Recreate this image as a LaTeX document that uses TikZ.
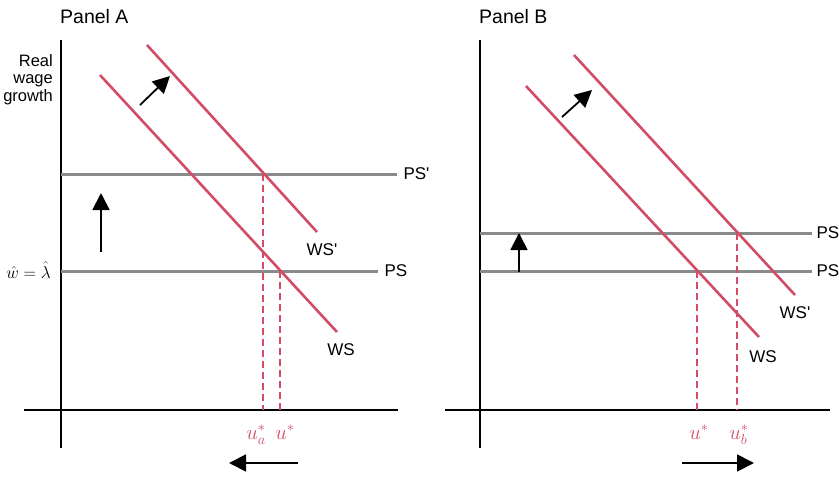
\documentclass[tikz,border=0pt]{standalone}
\usepackage{fontspec}
\setmainfont{Liberation Sans}
\usepackage{amsmath}
\usetikzlibrary{arrows.meta, positioning}
\definecolor{wsred}{RGB}{210,76,102}
\definecolor{psgray}{RGB}{138,138,138}

\begin{document}
\begin{tikzpicture}[
        x=1pt, y=-1pt,
        axis/.style={draw=black, line width=1.8pt},
        ps/.style={draw=psgray, line width=3pt},
        ws/.style={draw=wsred, line width=2.6pt},
        drop/.style={draw=wsred, line width=1.2pt, dash pattern=on 7pt off 4pt},
        shiftarrow/.style={draw=black, line width=1.8pt, -{Triangle[length=17pt, width=17pt]}},
        lbl/.style={font=\fontsize{17}{17}\selectfont, inner sep=0pt},
        paneltitle/.style={font=\fontsize{19.5}{19.5}\selectfont, inner sep=0pt, anchor=west},
        ustar/.style={text=wsred, font=\fontsize{22}{22}\selectfont, inner sep=0pt, anchor=base}
    ]
        \useasboundingbox (0,0) rectangle (839,477);

        % Panel A
        \node[paneltitle] (panelA) at (60,17) {Panel A};
        \node[align=right, anchor=north east, inner sep=0pt, font=\fontsize{16.5}{17.5}\selectfont] (ylab) at (53,54) {Real\\wage\\growth};
        \node[anchor=base east, inner sep=0pt, font=\fontsize{19}{19}\selectfont] (wlam) at (51,278) {$\hat{w}=\hat{\lambda}$};

        \draw[axis] (61,40) -- (61,448);
        \draw[axis] (24,410) -- (398,410);
        \draw[ps] (61,174) -- (397,174) node[lbl, right=5pt] (psA2) {PS\textquotesingle};
        \draw[ps] (61,271) -- (378,271) node[lbl, right=5pt] (psA1) {PS};
        \draw[drop] (263,174) -- (263,410);
        \draw[drop] (280,271) -- (280,410);
        \draw[ws] (147,45) -- (317,232);
        \draw[ws] (100,75) -- (337,332);
        \node[lbl] (wsA2) at (322,250) {WS\textquotesingle};
        \node[lbl] (wsA1) at (341,350) {WS};
        \node[ustar] (uaA) at (256,439) {$u_a^*$};
        \node[ustar] (uA) at (285,439) {$u^*$};

        \coordinate (wsA tail) at (140,105);
        \coordinate (wsA head) at (170,76);
        \coordinate (psA tail) at (101,252);
        \coordinate (psA head) at (101,193);
        \coordinate (uA tail) at (298,463);
        \coordinate (uA head) at (229,463);
        \draw[shiftarrow] (wsA tail) -- (wsA head);
        \draw[shiftarrow] (psA tail) -- (psA head);
        \draw[shiftarrow] (uA tail) -- (uA head);

        % Panel B
        \node[paneltitle] (panelB) at (479,17) {Panel B};

        \draw[axis] (480,40) -- (480,448);
        \draw[axis] (445,410) -- (830,410);
        \draw[ps] (480,233) -- (812,233) node[lbl, right=3pt] (psB2) {PS};
        \draw[ps] (480,271) -- (812,271) node[lbl, right=3pt] (psB1) {PS};
        \draw[drop] (737,233) -- (737,410);
        \draw[drop] (697,271) -- (697,410);
        \draw[ws] (574,55) -- (795,295);
        \draw[ws] (526,86) -- (759,337);
        \node[lbl] (wsB2) at (795,313) {WS\textquotesingle};
        \node[lbl] (wsB1) at (763,357) {WS};
        \node[ustar] (uB) at (699,439) {$u^*$};
        \node[ustar] (ubB) at (739,439) {$u_b^*$};

        \coordinate (wsB tail) at (562,117);
        \coordinate (wsB head) at (592,90);
        \coordinate (psB tail) at (519,272);
        \coordinate (psB head) at (519,233);
        \coordinate (uB tail) at (682,463);
        \coordinate (uB head) at (754,463);
        \draw[shiftarrow] (wsB tail) -- (wsB head);
        \draw[shiftarrow] (psB tail) -- (psB head);
        \draw[shiftarrow] (uB tail) -- (uB head);
    \end{tikzpicture}
\end{document}
